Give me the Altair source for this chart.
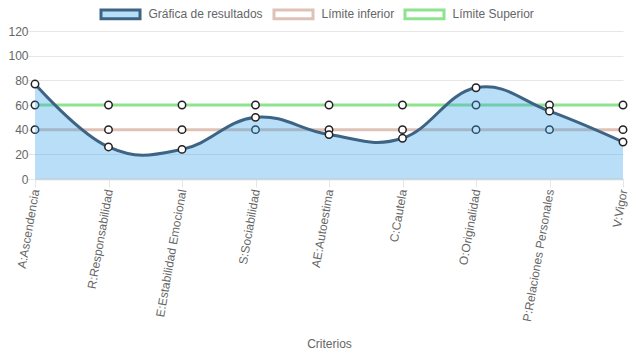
import altair as alt
import pandas as pd

categorias = ["A:Ascendencia", "R:Responsabilidad", "E:Estabilidad Emocional",
              "S:Sociabilidad", "AE:Autoestima", "C:Cautela", "O:Originalidad",
              "P:Relaciones Personales", "V:Vigor"]
resultados = [77, 26, 24, 50, 36, 33, 74, 55, 30]
limite_inferior = [40, 40, 40, 40, 40, 40, 40, 40, 40]
limite_superior = [60, 60, 60, 60, 60, 60, 60, 60, 60]
series = ["Gráfica de resultados", "Límite inferior", "Límite Superior"]
y_ticks = [0, 20, 40, 60, 80, 100, 120]

df = pd.DataFrame({
    "cat": categorias,
    "res": resultados,
    "inf": limite_inferior,
    "sup": limite_superior,
})
leg_df = pd.DataFrame({"serie": series, "cat": [categorias[0]] * 3, "v": [0, 0, 0]})

FONT = "Liberation Sans, Arial, sans-serif"
GRID = "#e6e6e6"
LINE_BLUE = "#3e6485"
C_INF = "#dfc2b6"
C_SUP = "#8ee48e"

x_enc = alt.X("cat:N", sort=categorias,
              scale=alt.Scale(type="point", padding=0),
              axis=alt.Axis(title="Criterios", labelAngle=-80, labelAlign="right",
                            labelBaseline="middle", labelPadding=2, tickSize=8,
                            tickColor=GRID, gridColor=GRID, domainColor="#d4d4d4",
                            domainWidth=1.5, labelColor="#666", labelFontSize=12,
                            labelFont=FONT, titleFont=FONT, titleFontSize=12,
                            titleColor="#666", titleFontWeight="normal",
                            titleY=164, titleBaseline="middle", labelOverlap=False))
y_scale = alt.Scale(domain=[0, 120], nice=False)
y_axis = alt.Axis(title=None, values=y_ticks, tickSize=7, tickColor=GRID,
                  gridColor=GRID, domain=False, labelColor="#666", labelFontSize=12,
                  labelFont=FONT, labelPadding=0)

base = alt.Chart(df)

inf_line = base.mark_line(color=C_INF, strokeWidth=3).encode(
    x=x_enc, y=alt.Y("inf:Q", scale=y_scale, axis=y_axis))
sup_line = base.mark_line(color=C_SUP, strokeWidth=3).encode(
    x=x_enc, y=alt.Y("sup:Q", scale=y_scale, axis=y_axis))
inf_pts = base.mark_point(filled=True, fill="white", stroke="#222", strokeWidth=1.5,
                          size=55, opacity=1).encode(
    x=x_enc, y=alt.Y("inf:Q", scale=y_scale, axis=y_axis))
sup_pts = base.mark_point(filled=True, fill="white", stroke="#222", strokeWidth=1.5,
                          size=55, opacity=1).encode(
    x=x_enc, y=alt.Y("sup:Q", scale=y_scale, axis=y_axis))

area = base.mark_area(interpolate="cardinal", tension=-0.2, color="#36a2eb",
                      opacity=0.35).encode(
    x=x_enc, y=alt.Y("res:Q", scale=y_scale, axis=y_axis))
res_line = base.mark_line(interpolate="cardinal", tension=-0.2, color=LINE_BLUE,
                          strokeWidth=3).encode(
    x=x_enc, y=alt.Y("res:Q", scale=y_scale, axis=y_axis))
res_pts = base.mark_point(filled=True, fill="white", stroke="#222", strokeWidth=1.5,
                          size=55, opacity=1).encode(
    x=x_enc, y=alt.Y("res:Q", scale=y_scale, axis=y_axis))

legend_layer = alt.Chart(leg_df).mark_point(opacity=0, filled=True).encode(
    x=x_enc,
    y=alt.Y("v:Q", scale=y_scale, axis=y_axis),
    fill=alt.Fill("serie:N", sort=series,
                  scale=alt.Scale(domain=series, range=["#b9def8", "white", "white"]),
                  legend=alt.Legend(title=None)),
    stroke=alt.Stroke("serie:N", sort=series,
                      scale=alt.Scale(domain=series, range=[LINE_BLUE, C_INF, C_SUP]),
                      legend=alt.Legend(title=None)),
)

chart = alt.layer(inf_line, sup_line, inf_pts, sup_pts, area, res_line, res_pts,
                  legend_layer).properties(
    width=588, height=148,
    autosize=alt.AutoSizeParams(type="none"),
    padding={"left": 27, "top": 23, "right": 6, "bottom": 172},
).configure_view(stroke=None).configure_legend(
    orient="none", direction="horizontal", legendX=64.5, legendY=-38,
    symbolType="M-1,-0.22L1,-0.22L1,0.22L-1,0.22Z", symbolSize=1521,
    symbolStrokeWidth=3, symbolOpacity=1, labelFont=FONT, labelFontSize=12,
    labelColor="#666", labelOffset=7, columnPadding=4,
)

chart.save("out.html", embed_options={"renderer": "svg", "actions": False})
